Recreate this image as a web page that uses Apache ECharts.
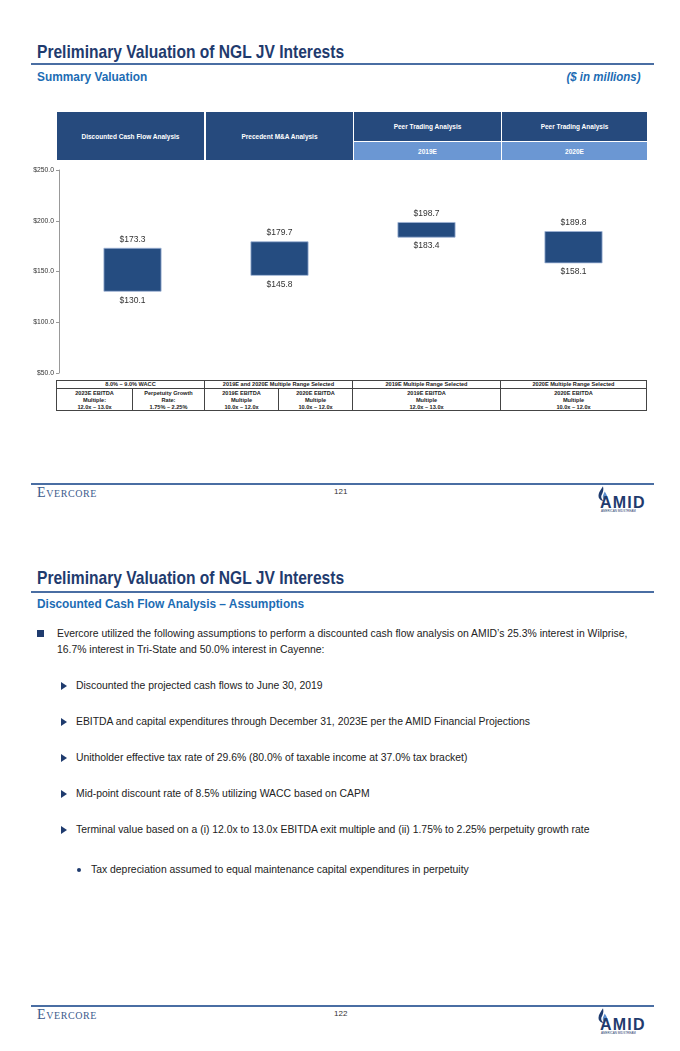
<!DOCTYPE html>
<html><head><meta charset="utf-8">
<script src="https://cdn.jsdelivr.net/npm/echarts@6/dist/echarts.min.js"></script>
<style>
html,body{margin:0;padding:0;background:#fff;}
body{width:680px;height:1051px;position:relative;overflow:hidden;font-family:"Liberation Sans",Arial,sans-serif;}
.abs{position:absolute;white-space:nowrap;}
.title{font-weight:bold;font-size:19px;color:#1f3b6e;line-height:20px;transform:scaleX(0.82);transform-origin:0 0;}
.sub{font-weight:bold;font-size:12.5px;color:#1c6cb4;line-height:14px;transform:scaleX(0.95);transform-origin:0 0;}
.subr{font-weight:bold;font-size:12.5px;color:#1c6cb4;line-height:14px;transform:scaleX(0.92);transform-origin:100% 0;font-style:italic;}
.rule{position:absolute;left:31px;width:623px;height:2px;background:#4a6ea3;}
.ever{font-family:"Liberation Serif","DejaVu Serif",serif;font-variant:small-caps;color:#3b5a8c;font-size:14px;letter-spacing:0.6px;line-height:14px;}
.pg{font-size:8px;color:#333;line-height:9px;}
.amid{font-weight:bold;color:#1f3b6e;font-size:16px;line-height:16px;letter-spacing:1.2px;}
.amidsub{font-size:3px;color:#1f3b6e;line-height:3px;}
.hc{position:absolute;background:#264a7d;color:#fff;font-weight:bold;font-size:6.5px;display:flex;align-items:center;justify-content:center;text-align:center;}
.hl{background:#6b97d3;}
.bt{position:absolute;border:0.8px solid #444;box-sizing:border-box;font-weight:bold;font-size:5.6px;color:#222;text-align:center;line-height:7px;}
.txt{font-size:10.4px;color:#222;line-height:12px;}
</style></head>
<body>
<div id="page"></div>
<div id="chart" class="abs" style="left:0;top:160px;width:680px;height:225px;"></div>
<script>
// ---- data ----
var categories = ["Discounted Cash Flow Analysis", "Precedent M&A Analysis", "Peer Trading Analysis 2019E", "Peer Trading Analysis 2020E"];
var lows  = [130.1, 145.8, 183.4, 158.1];
var highs = [173.3, 179.7, 198.7, 189.8];
var yTicks = [50, 100, 150, 200, 250];

var headerTop = ["Discounted Cash Flow Analysis", "Precedent M&A Analysis", "Peer Trading Analysis", "Peer Trading Analysis"];
var headerSub = ["", "", "2019E", "2020E"];
var groupHeads = ["8.0% \u2013 9.0% WACC", "2019E and 2020E Multiple Range Selected", "2019E Multiple Range Selected", "2020E Multiple Range Selected"];
var detailCells = [
  ["2023E EBITDA", "Multiple:", "12.0x \u2013 13.0x"],
  ["Perpetuity Growth", "Rate:", "1.75% \u2013 2.25%"],
  ["2019E EBITDA", "Multiple", "10.0x \u2013 12.0x"],
  ["2020E EBITDA", "Multiple", "10.0x \u2013 12.0x"],
  ["2019E EBITDA", "Multiple", "12.0x \u2013 13.0x"],
  ["2020E EBITDA", "Multiple", "10.0x \u2013 12.0x"]
];
var pageTitle = "Preliminary Valuation of NGL JV Interests";
var bulletMain = ["Evercore utilized the following assumptions to perform a discounted cash flow analysis on AMID\u2019s 25.3% interest in Wilprise,", "16.7% interest in Tri-State and 50.0% interest in Cayenne:"];
var subBullets = [
  "Discounted the projected cash flows to June 30, 2019",
  "EBITDA and capital expenditures through December 31, 2023E per the AMID Financial Projections",
  "Unitholder effective tax rate of 29.6% (80.0% of taxable income at 37.0% tax bracket)",
  "Mid-point discount rate of 8.5% utilizing WACC based on CAPM",
  "Terminal value based on a (i) 12.0x to 13.0x EBITDA exit multiple and (ii) 1.75% to 2.25% perpetuity growth rate"
];
var dotBullet = "Tax depreciation assumed to equal maintenance capital expenditures in perpetuity";

// ---- static page layout ----
var page = document.getElementById('page');
function add(html){ page.insertAdjacentHTML('beforeend', html); }
function footer(lineY, num){
  add('<div class="rule" style="top:'+lineY+'px"></div>');
  add('<div class="abs ever" style="left:37px;top:'+(lineY+3)+'px">Evercore</div>');
  add('<div class="abs pg" style="left:334px;top:'+(lineY+4)+'px">'+num+'</div>');
  add('<svg class="abs" style="left:597px;top:'+(lineY+3)+'px" width="12" height="16" viewBox="0 0 14 18">' +
      '<path d="M7 0 C4 5 1 8 2 13 C3 16 6 17 8 17 C5 15 4 12 6 9 C7 7 8 4 7 0 Z" fill="#1f3b6e"/>' +
      '<path d="M9 6 C8 9 6 11 7 14 C8 16 11 16 12 13 C12 10 10 8 9 6 Z" fill="#5b8fd0"/></svg>');
  add('<div class="abs amid" style="left:600px;top:'+(lineY+12)+'px">AMID</div>');
  add('<div class="abs amidsub" style="left:601px;top:'+(lineY+27)+'px">AMERICAN MIDSTREAM</div>');
}
// page 1
add('<div class="abs title" style="left:37px;top:42px">'+pageTitle+'</div>');
add('<div class="rule" style="top:63px"></div>');
add('<div class="abs sub" style="left:37px;top:70px">Summary Valuation</div>');
add('<div class="abs subr" style="right:39px;top:70px">($ in millions)</div>');
var colX = [57, 205, 353, 501, 647];
for (var i=0;i<4;i++){
  var x0 = colX[i]+ (i?1:0), w = colX[i+1]-colX[i]-1;
  if (headerSub[i]){
    add('<div class="hc" style="left:'+x0+'px;top:112px;width:'+w+'px;height:29px">'+headerTop[i]+'</div>');
    add('<div class="hc hl" style="left:'+x0+'px;top:142px;width:'+w+'px;height:18px">'+headerSub[i]+'</div>');
  } else {
    add('<div class="hc" style="left:'+x0+'px;top:112px;width:'+w+'px;height:48px">'+headerTop[i]+'</div>');
  }
}
var gX = [56, 204, 352, 500, 646];
for (var g=0; g<4; g++){
  add('<div class="bt" style="left:'+gX[g]+'px;top:380px;width:'+(gX[g+1]-gX[g]+1)+'px;height:9px;line-height:7.5px">'+groupHeads[g]+'</div>');
}
var dX = [56, 132, 204, 278, 352, 500, 646];
for (var d=0; d<6; d++){
  add('<div class="bt" style="left:'+dX[d]+'px;top:388px;width:'+(dX[d+1]-dX[d]+1)+'px;height:23px;padding-top:0.5px">'+detailCells[d].join('<br>')+'</div>');
}
footer(483, "121");
// page 2
add('<div class="abs title" style="left:37px;top:568px">'+pageTitle+'</div>');
add('<div class="rule" style="top:591px"></div>');
add('<div class="abs sub" style="left:37px;top:597px">Discounted Cash Flow Analysis \u2013 Assumptions</div>');
add('<div class="abs" style="left:37px;top:630px;width:7px;height:7px;background:#1f3b6e"></div>');
add('<div class="abs txt" style="left:57px;top:628px">'+bulletMain[0]+'</div>');
add('<div class="abs txt" style="left:57px;top:644px">'+bulletMain[1]+'</div>');
var sy = [680, 716, 752, 788, 824];
for (var s=0;s<subBullets.length;s++){
  add('<div class="abs" style="left:61px;top:'+(sy[s]+2)+'px;width:0;height:0;border-top:4px solid transparent;border-bottom:4px solid transparent;border-left:6px solid #1f3b6e"></div>');
  add('<div class="abs txt" style="left:76px;top:'+sy[s]+'px">'+subBullets[s]+'</div>');
}
add('<div class="abs" style="left:77px;top:868px;width:4px;height:4px;border-radius:50%;background:#1f3b6e"></div>');
add('<div class="abs txt" style="left:91px;top:864px">'+dotBullet+'</div>');
footer(1005, "122");

// ---- chart ----
var chart = echarts.init(document.getElementById('chart'), null, {renderer:'canvas'});
var spans = highs.map(function(h,i){ return +(h - lows[i]).toFixed(1); });
chart.setOption({
  animation:false,
  grid:{left:59, right:33, top:10, height:203},
  xAxis:{type:'category', data:categories, show:false},
  yAxis:{type:'value', min:50, max:250, interval:50,
    axisLine:{show:true, lineStyle:{color:'#999', width:1}},
    axisTick:{show:true, length:3, lineStyle:{color:'#999'}},
    splitLine:{show:false},
    axisLabel:{fontSize:6.8, color:'#333', margin:5, fontFamily:'Liberation Sans, Arial',
      formatter:function(v){ return '$' + v.toFixed(1); }}
  },
  series:[
    {type:'bar', stack:'r', data:lows, barWidth:58, silent:true,
      itemStyle:{color:'rgba(0,0,0,0)'},
      label:{show:true, position:'insideTop', distance:4, fontSize:8.5, color:'#333', fontFamily:'Liberation Sans, Arial',
        formatter:function(p){ return '$' + lows[p.dataIndex].toFixed(1); }}
    },
    {type:'bar', stack:'r', data:spans, barWidth:58,
      itemStyle:{color:'#254c80', borderColor:'#9fb4d6', borderWidth:0.8},
      label:{show:true, position:'top', distance:4, fontSize:8.5, color:'#333', fontFamily:'Liberation Sans, Arial',
        formatter:function(p){ return '$' + highs[p.dataIndex].toFixed(1); }}
    }
  ]
});
</script>
</body></html>
